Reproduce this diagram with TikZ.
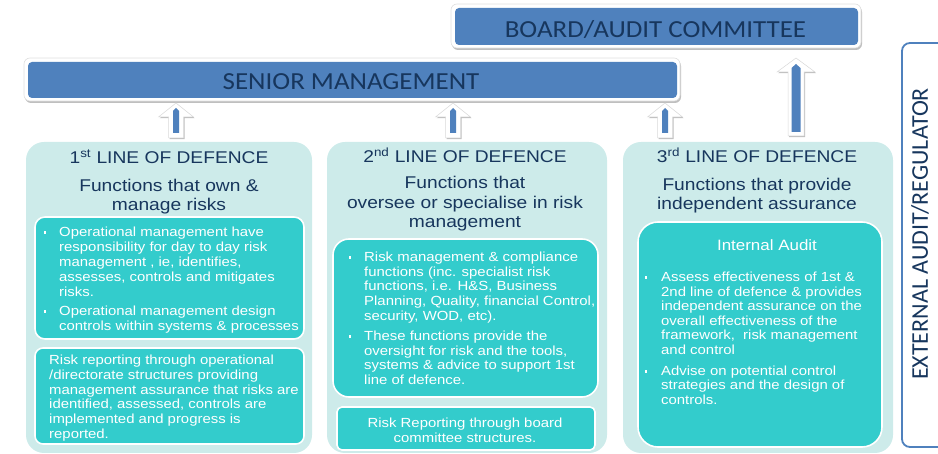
\documentclass[tikz,border=0pt]{standalone}
\usepackage{fontspec}
\setmainfont{Liberation Sans}[FakeStretch=1.13]
\newfontfamily\hdrfont{Carlito}[FakeStretch=1.1]
\newfontfamily\extfont{Carlito}
\definecolor{hblue}{HTML}{4F81BD}
\definecolor{navy}{HTML}{17365D}
\definecolor{panelc}{HTML}{CDEBEA}
\definecolor{tealc}{HTML}{33CCCC}
\definecolor{shadowc}{HTML}{BFBFBF}
\tikzset{
  bluebar/.style={fill=hblue, rounded corners=4pt},
  barring/.style={fill=white, draw=gray!25, line width=0.6pt, rounded corners=6pt},
  barshadow/.style={fill=shadowc, rounded corners=6pt},
  bartxt/.style={text=navy, font=\hdrfont\fontsize{24.5}{26}\selectfont, inner sep=0pt},
  panel/.style={fill=panelc, rounded corners=18pt},
  innerbox/.style={fill=tealc, draw=white, line width=1.6pt},
  hdrtxt/.style={text=navy, font=\fontsize{17}{19}\selectfont, inner sep=0pt, anchor=base},
  bodytxt/.style={text=white, font=\fontsize{13.2}{15}\selectfont, inner sep=0pt, anchor=base west},
  ctrtxt/.style={text=white, font=\fontsize{13.2}{15}\selectfont, inner sep=0pt, anchor=base},
  arrowout/.style={fill=white, draw=gray!30, line width=0.5pt},
  arrowshadow/.style={fill=shadowc},
  arrowin/.style={fill=hblue},
  extbox/.style={draw=hblue, line width=1.8pt, rounded corners=8pt},
}
\begin{document}
\begin{tikzpicture}[x=1pt,y=-1pt]
\useasboundingbox (0,0) rectangle (938,454);

% ---------- top bars ----------
\fill[barshadow] (452,6) rectangle (862,50);
\draw[barring] (451,4) rectangle (861,48);
\fill[bluebar] (455,8) rectangle (858,45);
\node[bartxt] (board) at (655.5,29.5) {BOARD/AUDIT COMMITTEE};

\fill[barshadow] (25,60) rectangle (681,103);
\draw[barring] (24,58) rectangle (680,101);
\fill[bluebar] (28,62) rectangle (677,98);
\node[bartxt] (senior) at (351,82) {SENIOR MANAGEMENT};

% ---------- arrows ----------
\foreach \cx [count=\k] in {176,453,665}{
  \coordinate (sa\k) at (\cx,138);
  \fill[arrowshadow] ([shift={(1.2,1.2)}]sa\k) ++(7.5,0) -- ++(0,-21) -- ++(10,0) -- ++(-17.5,-14) -- ++(-17.5,14) -- ++(10,0) -- ++(0,21) -- cycle;
  \draw[arrowout] (sa\k) ++(7.5,0) -- ++(0,-21) -- ++(10,0) -- ++(-17.5,-14) -- ++(-17.5,14) -- ++(10,0) -- ++(0,21) -- cycle;
  \fill[arrowin] (sa\k) ++(3,-5) -- ++(0,-22) -- ++(-3,-3) -- ++(-3,3) -- ++(0,22) -- cycle;
}
\coordinate (ba) at (796,136);
\fill[arrowshadow] ([shift={(1.2,1.2)}]ba) ++(8,0) -- ++(0,-64) -- ++(11,0) -- ++(-19,-14) -- ++(-19,14) -- ++(11,0) -- ++(0,64) -- cycle;
\draw[arrowout] (ba) ++(8,0) -- ++(0,-64) -- ++(11,0) -- ++(-19,-14) -- ++(-19,14) -- ++(11,0) -- ++(0,64) -- cycle;
\fill[arrowin] (ba) ++(4.5,-4) -- ++(0,-64) -- ++(-4.5,-4) -- ++(-4.5,4) -- ++(0,64) -- cycle;

% ---------- panels ----------
\fill[panel] (26,142) rectangle (312,453);
\fill[panel] (327,142) rectangle (607,453);
\fill[panel] (623,142) rectangle (893,453);

% ---------- panel 1 ----------
\node[hdrtxt] (h1a) at (169,164) {1\textsuperscript{st} LINE OF DEFENCE};
\node[hdrtxt] (h1b) at (169,192) {Functions that own \&};
\node[hdrtxt] (h1c) at (169,211) {manage risks};
\draw[innerbox, rounded corners=10pt] (35,217) rectangle (304,339);
\draw[innerbox, rounded corners=8pt] (35,348) rectangle (304,444);
\foreach \txt [count=\i] in {{Operational management have},{responsibility for day to day risk},{management , ie, identifies,},{assesses, controls and mitigates},{risks.}}
  \node[bodytxt] (p1a\i) at (59,{236.5+15*(\i-1)}) {\txt};
\foreach \txt [count=\i] in {{Operational management design},{controls within systems \& processes}}
  \node[bodytxt] (p1b\i) at (59,{315.5+15*(\i-1)}) {\txt};
\foreach \txt [count=\i] in {{Risk reporting through operational},{/directorate structures providing},{management assurance that risks are},{identified, assessed, controls are},{implemented and progress is},{reported.}}
  \node[bodytxt] (p1c\i) at (49,{364.5+14.8*(\i-1)}) {\txt};
\fill[white] (44,231.5) rectangle ++(2.4,2.4);
\fill[white] (44,310.5) rectangle ++(2.4,2.4);

% ---------- panel 2 ----------
\node[hdrtxt] (h2a) at (465,163) {2\textsuperscript{nd} LINE OF DEFENCE};
\node[hdrtxt] (h2b) at (465,189) {Functions that};
\node[hdrtxt] (h2c) at (465,208.5) {oversee or specialise in risk};
\node[hdrtxt] (h2d) at (465,228) {management};
\draw[innerbox, rounded corners=16pt] (333,239) rectangle (598,397);
\draw[innerbox, rounded corners=5pt] (337,407) rectangle (595,450);
\foreach \txt [count=\i] in {{Risk management \& compliance},{functions (inc. specialist risk},{functions, i.e. H\&S, Business},{Planning, Quality, financial Control,},{security, WOD, etc).}}
  \node[bodytxt] (p2a\i) at (364,{261.5+14.75*(\i-1)}) {\txt};
\foreach \txt [count=\i] in {{These functions provide the},{oversight for risk and the tools,},{systems \& advice to support 1st},{line of defence.}}
  \node[bodytxt] (p2b\i) at (364,{340.5+14.7*(\i-1)}) {\txt};
\node[ctrtxt] (p2c1) at (465,427.5) {Risk Reporting through board};
\node[ctrtxt] (p2c2) at (465,442.5) {committee structures.};
\fill[white] (349,256.5) rectangle ++(2.4,2.4);
\fill[white] (349,335.5) rectangle ++(2.4,2.4);

% ---------- panel 3 ----------
\node[hdrtxt] (h3a) at (757,163) {3\textsuperscript{rd} LINE OF DEFENCE};
\node[hdrtxt] (h3b) at (757,191) {Functions that provide};
\node[hdrtxt] (h3c) at (757,210) {independent assurance};
\draw[innerbox, rounded corners=20pt] (638,222) rectangle (882,447);
\node[ctrtxt, font=\fontsize{15}{17}\selectfont] (p3t) at (767,251) {Internal Audit};
\foreach \txt [count=\i] in {{Assess effectiveness of 1st \&},{2nd line of defence \& provides},{independent assurance on the},{overall effectiveness of the},{framework,\ \ risk management},{and control}}
  \node[bodytxt] (p3a\i) at (661,{281.5+14.6*(\i-1)}) {\txt};
\foreach \txt [count=\i] in {{Advise on potential control},{strategies and the design of},{controls.}}
  \node[bodytxt] (p3b\i) at (661,{375.5+14.5*(\i-1)}) {\txt};
\fill[white] (645,276.5) rectangle ++(2.4,2.4);
\fill[white] (645,370.5) rectangle ++(2.4,2.4);

% ---------- external audit ----------
\draw[extbox] (950,43) -- (902,43) -- (902,447) -- (950,447);
\node[text=navy, font=\extfont\fontsize{24}{26}\selectfont, inner sep=0pt, rotate=90] (ext) at (920,234) {EXTERNAL AUDIT/REGULATOR};
\end{tikzpicture}
\end{document}
